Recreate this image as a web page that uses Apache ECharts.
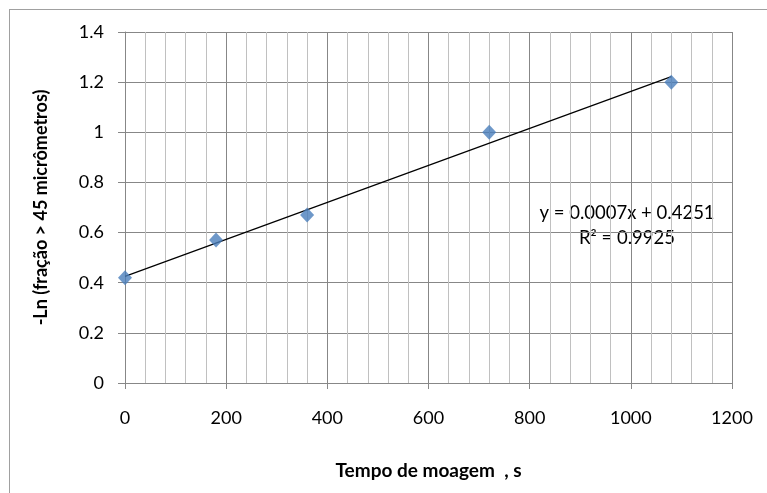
<!DOCTYPE html>
<html>
<head>
<meta charset="utf-8">
<script src="https://cdn.jsdelivr.net/npm/echarts@6/dist/echarts.min.js"></script>
<style>
  html, body { margin: 0; padding: 0; background: #fff; overflow: hidden; }
  #frame { position: absolute; left: 9px; top: 9px; width: 900px; height: 700px; border: 1px solid #a0a0a0; box-sizing: border-box; }
  #chart { position: absolute; left: 0; top: 0; width: 767px; height: 493px; }
</style>
</head>
<body>
<div id="frame"></div>
<div id="chart"></div>
<script>
// Tempo de moagem (s) vs -Ln(fração > 45 µm)
const tempo = [0, 180, 360, 720, 1080];
const lnFracao = [0.42, 0.57, 0.67, 1.0, 1.2];

// linha de tendência (pontas)
const trendX = [0, 1080];
const trendY = [0.4251, 1.222];

const eqText = 'y = 0.0007x + 0.4251';
const r2Text = 'R² = 0.9925';

const font = 'Lato, "Open Sans", sans-serif';
const majorGray = '#878787';
const minorGray = '#c0c0c0';

const chart = echarts.init(document.getElementById('chart'));

chart.setOption({
  backgroundColor: 'transparent',
  animation: false,
  textStyle: { fontFamily: font },
  grid: { left: 125, right: 35, top: 32, bottom: 110 },
  xAxis: {
    type: 'value',
    min: 0, max: 1200, interval: 200,
    name: 'Tempo de moagem  , s',
    nameLocation: 'middle',
    nameGap: 78,
    nameTextStyle: { fontSize: 19, fontWeight: 'bold', color: '#000', fontFamily: font },
    axisLine: { show: true, lineStyle: { color: majorGray, width: 1 } },
    axisTick: { show: true, length: 6, lineStyle: { color: majorGray } },
    axisLabel: { fontSize: 18, color: '#000', margin: 26, fontFamily: font,
      formatter: v => String(v) },
    splitLine: { show: true, lineStyle: { color: majorGray, width: 1 } },
    minorTick: { show: false, splitNumber: 5 },
    minorSplitLine: { show: true, lineStyle: { color: minorGray, width: 1 } }
  },
  yAxis: {
    type: 'value',
    min: 0, max: 1.4, interval: 0.2,
    name: '-Ln (fração > 45 micrômetros)',
    nameLocation: 'middle',
    nameGap: 75,
    nameTextStyle: { fontSize: 18, fontWeight: 'bold', color: '#000', fontFamily: font },
    axisLine: { show: true, lineStyle: { color: majorGray, width: 1 } },
    axisTick: { show: true, length: 7, lineStyle: { color: majorGray } },
    axisLabel: { fontSize: 18, color: '#000', margin: 21, fontFamily: font,
      formatter: v => String(Math.round(v * 10) / 10) },
    splitLine: { show: true, lineStyle: { color: majorGray, width: 1 } }
  },
  series: [
    {
      type: 'line',
      data: trendX.map((x, i) => [x, trendY[i]]),
      showSymbol: false,
      lineStyle: { color: '#000', width: 1.2 },
      z: 2
    },
    {
      type: 'scatter',
      data: tempo.map((x, i) => [x, lnFracao[i]]),
      symbol: 'diamond',
      symbolSize: [14, 15],
      itemStyle: { color: '#4a7ebb' },
      z: 3
    }
  ],
  graphic: [
    { type: 'text', x: 627, y: 213,
      style: { text: eqText, fontSize: 18.5, fontFamily: font, fill: '#000', align: 'center', verticalAlign: 'middle' } },
    { type: 'text', x: 627, y: 238,
      style: { text: r2Text, fontSize: 18.5, fontFamily: font, fill: '#000', align: 'center', verticalAlign: 'middle' } }
  ]
});
</script>
</body>
</html>
